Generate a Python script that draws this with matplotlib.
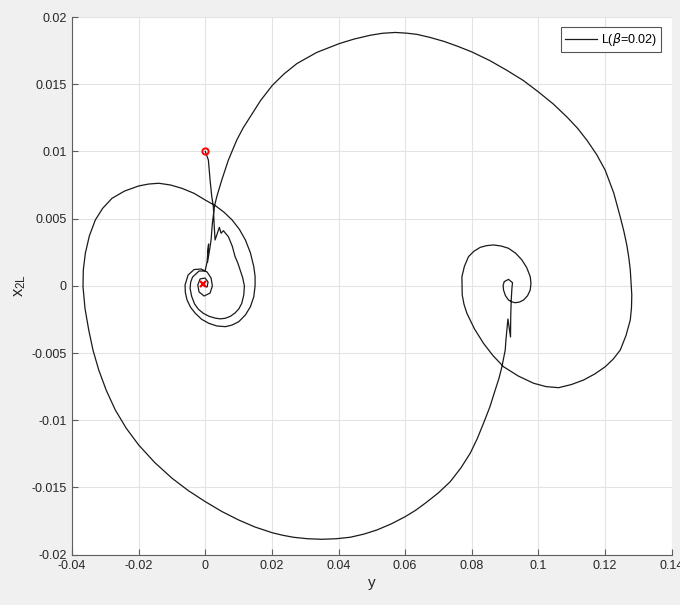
#!/usr/bin/env python3
import matplotlib
matplotlib.use('Agg')
import matplotlib.pyplot as plt

fontsize = 11
tick_fontsize = 9
legend_fontsize = 9

# phase trajectory split into pieces: horizontal coordinate (y) and vertical (x_2L)
# leaving the start point, bump, loop round the origin and climb out
start_y = [
	0.0, 0.00093, 0.00144, 0.00195, 0.00243, 0.00264, 0.00294, 0.00423, 0.00474, 0.00544,
	0.00694, 0.00811, 0.00895, 0.00979, 0.01045, 0.01123, 0.01174, 0.01156, 0.01096, 0.01009,
	0.00895, 0.00754, 0.00595, 0.00444, 0.00294, 0.00114, -0.00057, -0.00201, -0.00321, -0.00408,
	-0.00456, -0.00438, -0.00381, -0.00186, -0.00006, 0.00054, 0.00099, 0.00069, 0.00138, 0.00174,
	0.00213, 0.00273, 0.00345, 0.00495, 0.00694, 0.00946,
]
start_x2l = [
	0.0100, 0.00936, 0.00787, 0.00663, 0.00589, 0.00465, 0.00341, 0.00435, 0.00391, 0.00410,
	0.00365, 0.00294, 0.00217, 0.00168, 0.00118, 0.00060, -0.00001, -0.00068, -0.00130, -0.00171,
	-0.00202, -0.00227, -0.00242, -0.00246, -0.00240, -0.00227, -0.00205, -0.00176, -0.00135, -0.00079,
	-0.00019, 0.00028, 0.00065, 0.00110, 0.00110, 0.00177, 0.00311, 0.00177, 0.00281, 0.00341,
	0.00465, 0.00589, 0.00663, 0.00787, 0.00936, 0.01085,
]

# big upper swing over to the right-hand equilibrium
top_y = [
	0.01135, 0.01345, 0.01661, 0.02015, 0.02366, 0.02748, 0.03342, 0.04009, 0.04468, 0.04949,
	0.05324, 0.0570, 0.0603, 0.06351, 0.0676, 0.07171, 0.07586, 0.08003, 0.08538, 0.09054,
	0.09544, 0.10003, 0.10444, 0.10856, 0.11171, 0.11456, 0.11751, 0.12006, 0.12261, 0.12456,
	0.12562, 0.12652, 0.12712, 0.12757, 0.12802, 0.12793, 0.12757, 0.12628, 0.12456, 0.12246,
	0.12006, 0.11691, 0.11354, 0.10985, 0.10604, 0.10228, 0.09853, 0.09393, 0.08952, 0.08634,
	0.08351, 0.08081, 0.07853, 0.07766, 0.07712,
]
top_x2l = [
	0.01174, 0.01256, 0.01379, 0.01492, 0.01577, 0.01653, 0.01736, 0.01801, 0.01836, 0.01864,
	0.01879, 0.01885, 0.01880, 0.01871, 0.01847, 0.01818, 0.01781, 0.01740, 0.01676, 0.01603,
	0.01528, 0.01442, 0.01353, 0.01256, 0.01173, 0.01083, 0.00975, 0.00859, 0.00690, 0.00512,
	0.00408, 0.00304, 0.00211, 0.00118, -0.00068, -0.00161, -0.00254, -0.00370, -0.00478, -0.00545,
	-0.00602, -0.00656, -0.00701, -0.00735, -0.00758, -0.00750, -0.00725, -0.00671, -0.00602, -0.00519,
	-0.00428, -0.00321, -0.00205, -0.00138, -0.00068,
]

# spiral round the right-hand equilibrium and the kink on the way out
right_y = [
	0.07703, 0.07778, 0.07901, 0.08063, 0.08252, 0.08447, 0.08652, 0.08883, 0.09102, 0.09318,
	0.09505, 0.09649, 0.09754, 0.09775, 0.09754, 0.09673, 0.09553, 0.09429, 0.09303, 0.09198,
	0.09102, 0.09009, 0.08952, 0.0894, 0.08973, 0.09102, 0.09222, 0.09204, 0.09183, 0.09168,
	0.09162, 0.09084, 0.09024, 0.09003,
]
right_x2l = [
	0.00068, 0.00145, 0.00217, 0.00257, 0.00286, 0.00299, 0.00304, 0.00296, 0.00279, 0.00242,
	0.00192, 0.00135, 0.00068, 0.00019, -0.00031, -0.00074, -0.00106, -0.00121, -0.00126, -0.00119,
	-0.00106, -0.00073, -0.00031, 0.00002, 0.00031, 0.00048, 0.00023, -0.00019, -0.00106, -0.00230,
	-0.00381, -0.00247, -0.00403, -0.00478,
]

# lower swing back round the left side
bottom_y = [
	0.08904, 0.08814, 0.08703, 0.08541, 0.08351, 0.08162, 0.07952, 0.0767, 0.07351, 0.06991,
	0.06601, 0.06309, 0.0600, 0.05586, 0.0515, 0.04754, 0.04348, 0.03928, 0.03498, 0.03072,
	0.02646, 0.02321, 0.02006, 0.01495, 0.01006, 0.00495, 0.0, -0.00508, -0.00997, -0.01517,
	-0.01997, -0.02372, -0.0270, -0.0297, -0.03198, -0.03369, -0.03498, -0.0361, -0.0367, -0.03661,
	-0.0360, -0.0348, -0.0330, -0.03078, -0.02799, -0.02423, -0.01997, -0.01703, -0.01396, -0.01042,
	-0.00697, -0.00336, 0.0,
]
bottom_x2l = [
	-0.00602, -0.0069, -0.00775, -0.00902, -0.01023, -0.01138, -0.01246, -0.01356, -0.01458, -0.01542,
	-0.01618, -0.01671, -0.01718, -0.01771, -0.01817, -0.01848, -0.01871, -0.01882, -0.01886, -0.01882,
	-0.01871, -0.01856, -0.01837, -0.01795, -0.01743, -0.01679, -0.01606, -0.01524, -0.01432, -0.01315,
	-0.01185, -0.0106, -0.00924, -0.00779, -0.00626, -0.0048, -0.00329, -0.00169, -0.00007, 0.00118,
	0.00242, 0.00371, 0.0049, 0.00577, 0.00651, 0.00705, 0.00743, 0.00757, 0.00763, 0.0075,
	0.00725, 0.00688, 0.00638,
]

# final spiral into the origin
settle_y = [
	0.00303, 0.00565, 0.00805, 0.01024, 0.01204, 0.01354, 0.01456, 0.01495, 0.01495, 0.01456,
	0.01354, 0.01204, 0.01006, 0.00805, 0.00604, 0.00348, 0.00105, -0.00111, -0.00297, -0.00441,
	-0.00547, -0.00598, -0.00607, -0.00517, -0.00336, -0.00126, 0.00054, 0.00174, 0.00213, 0.00144,
	-0.00036, -0.00186, -0.00225, -0.00156, -0.00006, 0.00084, 0.00054, -0.00036, -0.00057,
]
settle_x2l = [
	0.00596, 0.00547, 0.0049, 0.0042, 0.00341, 0.00246, 0.00142, 0.00071, -0.00001, -0.00082,
	-0.00156, -0.00217, -0.00267, -0.00292, -0.00304, -0.00299, -0.00279, -0.00249, -0.00205, -0.0016,
	-0.00106, -0.0005, 0.00006, 0.0008, 0.00121, 0.00125, 0.00103, 0.00058, -0.00001, -0.00054,
	-0.00076, -0.00046, 0.00006, 0.00051, 0.00058, 0.00028, -0.00009, -0.00001, 0.00013,
]

series_label = r'L($\beta$=0.02)'

xticks = [-0.04, -0.02, 0, 0.02, 0.04, 0.06, 0.08, 0.1, 0.12, 0.14]
xtick_labels = ['-0.04', '-0.02', '0', '0.02', '0.04', '0.06', '0.08', '0.1', '0.12', '0.14']
yticks = [-0.02, -0.015, -0.01, -0.005, 0, 0.005, 0.01, 0.015, 0.02]
ytick_labels = ['-0.02', '-0.015', '-0.01', '-0.005', '0', '0.005', '0.01', '0.015', '0.02']

plt.rcParams['font.family'] = ['Liberation Sans', 'DejaVu Sans']
plt.rcParams['axes.unicode_minus'] = False


def plot_trajectory(filename):
	fig = plt.figure(figsize=(6.8, 6.05), dpi=100, facecolor='#f0f0f0')
	ax = fig.add_axes([0.1059, 0.0833, 0.8819, 0.8886])
	ax.set_facecolor('white')

	traj_y = start_y + top_y + right_y + bottom_y + settle_y
	traj_x2l = start_x2l + top_x2l + right_x2l + bottom_x2l + settle_x2l

	ax.plot(traj_y, traj_x2l, color='#1a1a1a', linewidth=0.9, label=series_label,
		solid_joinstyle='round', zorder=3)
	# start and end of the run
	ax.plot(traj_y[0], traj_x2l[0], 'o', color='red', markerfacecolor='none',
		markersize=4.5, markeredgewidth=1.4, zorder=4)
	ax.plot(traj_y[-1], traj_x2l[-1], 'x', color='red',
		markersize=4, markeredgewidth=1.6, zorder=4)

	ax.set_xlim(xticks[0], xticks[-1])
	ax.set_ylim(yticks[0], yticks[-1])
	ax.set_xticks(xticks)
	ax.set_xticklabels(xtick_labels)
	ax.set_yticks(yticks)
	ax.set_yticklabels(ytick_labels)

	ax.grid(True, color='#e3e3e3', linewidth=0.8)
	ax.set_axisbelow(True)
	ax.spines['top'].set_visible(False)
	ax.spines['right'].set_visible(False)
	for side in ['left', 'bottom']:
		ax.spines[side].set_color('#5e5e5e')
		ax.spines[side].set_linewidth(0.8)
	ax.tick_params(direction='in', length=4, width=0.8, color='#5e5e5e',
		labelsize=tick_fontsize, labelcolor='#262626', pad=4)

	ax.set_xlabel('y', fontsize=fontsize, color='#262626', labelpad=3)
	ax.set_ylabel(r'$\mathregular{x_{2L}}$', fontsize=fontsize + 1, color='#262626', labelpad=2)

	leg = ax.legend(loc='upper right', bbox_to_anchor=(0.9817, 0.9808), borderaxespad=0,
		fontsize=legend_fontsize, fancybox=False, framealpha=1, edgecolor='#555555',
		handlelength=2.6, handletextpad=0.3, borderpad=0.3)
	leg.get_frame().set_linewidth(0.8)

	fig.savefig(filename, dpi=100, facecolor=fig.get_facecolor())


plot_trajectory('out.png')
